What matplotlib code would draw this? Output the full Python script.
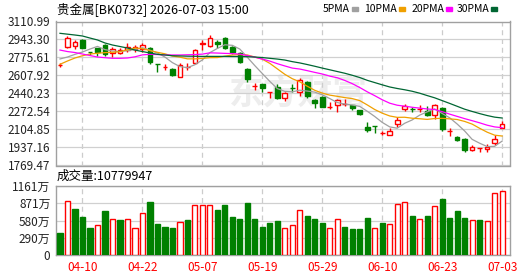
import matplotlib
matplotlib.use("Agg")
import matplotlib.pyplot as plt
from matplotlib.patches import Rectangle

plt.rcParams['font.family'] = ['Noto Sans CJK SC', 'DejaVu Sans']

# 日K数据
opens = [2704, 2871, 2880, 2939, 2828, 2864, 2892, 2815, 2815, 2846, 2852, 2855, 2867, 2713, 2683,
         2666, 2597, 2688, 2722, 2906, 2883, 2923, 2955, 2876, 2815, 2669, 2508, 2526, 2456, 2504,
         2401, 2495, 2457, 2545, 2380, 2410, 2316, 2333, 2344, 2333, 2287, 2128, 2135, 2069, 2054,
         2153, 2296, 2294, 2295, 2277, 2240, 2302, 2090, 2035, 2016, 1917, 1929, 1923, 1976, 2122]
highs = [2722, 2976, 2939, 2948, 2830, 2866, 2905, 2876, 2861, 2908, 2892, 2908, 2870, 2713, 2712,
         2675, 2722, 2727, 2855, 2939, 2985, 2939, 2969, 2880, 2830, 2678, 2535, 2529, 2457, 2529,
         2454, 2529, 2582, 2557, 2389, 2420, 2358, 2389, 2389, 2335, 2288, 2172, 2135, 2091, 2116,
         2224, 2340, 2310, 2333, 2324, 2343, 2311, 2116, 2044, 2026, 1961, 1930, 1970, 2053, 2184]
lows = [2687, 2867, 2855, 2860, 2799, 2792, 2790, 2783, 2805, 2830, 2827, 2827, 2712, 2643, 2659,
        2603, 2590, 2659, 2712, 2846, 2876, 2867, 2858, 2805, 2728, 2545, 2473, 2457, 2401, 2390,
        2370, 2457, 2420, 2401, 2308, 2310, 2296, 2265, 2324, 2287, 2240, 2079, 2070, 2053, 2052,
        2131, 2277, 2270, 2265, 2233, 2200, 2091, 2047, 1995, 1898, 1905, 1892, 1898, 1961, 2116]
closes = [2706, 2955, 2917, 2867, 2826, 2830, 2805, 2852, 2843, 2871, 2876, 2892, 2737, 2712, 2685,
          2613, 2706, 2690, 2846, 2908, 2955, 2899, 2861, 2824, 2731, 2573, 2510, 2494, 2457, 2396,
          2442, 2493, 2566, 2417, 2349, 2317, 2318, 2380, 2346, 2302, 2252, 2097, 2134, 2071, 2091,
          2193, 2324, 2292, 2297, 2240, 2333, 2110, 2092, 2007, 1914, 1942, 1930, 1939, 2016, 2156]
prev_close = 2715  # 第一天之前的收盘价 (估计)

# 成交量 (万)
volumes = [375, 909, 774, 640, 460, 505, 746, 600, 589, 606, 449, 707, 892, 527, 477,
           460, 550, 594, 847, 847, 847, 763, 847, 645, 611, 880, 611, 477, 544, 572,
           454, 505, 757, 662, 606, 544, 454, 606, 477, 443, 443, 628, 454, 544, 522,
           858, 892, 662, 606, 662, 825, 948, 628, 746, 628, 589, 589, 572, 1049, 1078]

# 均线
ma5 = [2762, 2780, 2805, 2827, 2854, 2879, 2849, 2836, 2831, 2840, 2849, 2867, 2844, 2818, 2780,
       2728, 2691, 2681, 2708, 2753, 2821, 2860, 2894, 2889, 2854, 2778, 2700, 2626, 2553, 2486,
       2460, 2456, 2471, 2463, 2453, 2428, 2393, 2356, 2342, 2333, 2320, 2275, 2226, 2171, 2129,
       2117, 2163, 2194, 2239, 2269, 2297, 2254, 2214, 2156, 2091, 2013, 1977, 1946, 1948, 1997]
ma10 = [2712, 2743, 2771, 2792, 2808, 2815, 2821, 2824, 2830, 2847, 2864, 2858, 2840, 2824, 2810,
        2789, 2779, 2763, 2763, 2767, 2774, 2775, 2788, 2799, 2803, 2799, 2780, 2760, 2721, 2670,
        2619, 2578, 2549, 2508, 2470, 2444, 2425, 2414, 2402, 2393, 2374, 2334, 2291, 2257, 2231,
        2218, 2219, 2210, 2205, 2199, 2207, 2209, 2204, 2198, 2180, 2155, 2116, 2080, 2052, 2044]
ma20 = [2845, 2831, 2822, 2808, 2794, 2780, 2774, 2768, 2768, 2771, 2782, 2800, 2805, 2803, 2800,
        2799, 2799, 2801, 2803, 2807, 2819, 2817, 2814, 2812, 2807, 2794, 2779, 2761, 2742, 2718,
        2697, 2677, 2668, 2653, 2637, 2622, 2602, 2587, 2562, 2532, 2496, 2456, 2420, 2382, 2350,
        2331, 2322, 2312, 2304, 2296, 2291, 2271, 2248, 2227, 2206, 2187, 2167, 2145, 2129, 2122]
ma30 = [3001, 2993, 2985, 2976, 2957, 2939, 2911, 2892, 2878, 2864, 2845, 2831, 2818, 2805, 2799,
        2792, 2790, 2788, 2787, 2786, 2786, 2786, 2786, 2785, 2785, 2783, 2780, 2775, 2768, 2761,
        2752, 2737, 2725, 2710, 2694, 2677, 2661, 2645, 2629, 2610, 2589, 2563, 2542, 2521, 2501,
        2487, 2475, 2461, 2443, 2421, 2400, 2374, 2348, 2321, 2294, 2273, 2253, 2235, 2220, 2212]

price_ticks = [3110.99, 2943.30, 2775.61, 2607.92, 2440.23, 2272.54, 2104.85, 1937.16, 1769.47]
vol_ticks = [1161, 871, 580, 290, 0]
vol_tick_labels = ["1161万", "871万", "580万", "290万", "0"]
date_idx = [3, 11, 19, 27, 35, 43, 51, 59]
date_labels = ["04-10", "04-22", "05-07", "05-19", "05-29", "06-10", "06-23", "07-03"]

RED = "#ff0000"
GREEN = "#008000"
W, H = 530, 276

fig = plt.figure(figsize=(W / 100, H / 100), dpi=100)
ax = fig.add_axes([56 / W, 1 - 165.5 / H, 454 / W, 144 / H])
axv = fig.add_axes([56 / W, 1 - 255 / H, 454 / W, 69 / H])

n = len(closes)
x = list(range(n))

# K线
for i in x:
    up = closes[i] >= opens[i]
    col = RED if up else GREEN
    ax.vlines(i, lows[i], highs[i], color=col, lw=1.0, zorder=3)
    bot = min(opens[i], closes[i])
    h = abs(closes[i] - opens[i])
    ax.bar(i, h, bottom=bot, width=0.62, facecolor="white" if up else col,
           edgecolor=col, lw=1.0, zorder=4)

ax.plot(x, ma5, color="#a0a0a0", lw=0.9, zorder=5)
ax.plot(x, ma10, color="#f0a000", lw=0.9, zorder=5)
ax.plot(x, ma20, color="#ff00ff", lw=0.9, zorder=5)
ax.plot(x, ma30, color="#006633", lw=0.9, zorder=5)

ax.text(0.533, 0.5, "东方财富", transform=ax.transAxes, ha="center", va="center",
        fontsize=25, fontweight="bold", color="#ededed", zorder=0.1)

# 成交量
pc = [prev_close] + closes[:-1]
for i in x:
    up = closes[i] > pc[i]
    col = RED if up else GREEN
    axv.bar(i, volumes[i], width=0.7, facecolor="white" if up else col,
            edgecolor=col, lw=1.0, zorder=3)

for a in (ax, axv):
    a.set_xlim(-0.53, 60.05)
    a.set_xticks(date_idx)
    a.tick_params(length=0, labelsize=8.5, colors="#222222", pad=4)
    a.grid(axis="x", color="#cccccc", ls=(0, (4, 3)), lw=0.9)
    a.grid(axis="y", color="#d0d0d0", ls="-", lw=0.9)
    a.set_axisbelow(True)
    for s in a.spines.values():
        s.set_color("#a0a0a0")
        s.set_linewidth(1.0)

ax.set_ylim(1769.47, 3110.99)
ax.set_yticks(price_ticks)
ax.set_yticklabels([f"{v:.2f}" for v in price_ticks])
ax.set_xticklabels([])

axv.set_ylim(0, 1161)
axv.set_yticks(vol_ticks)
axv.set_yticklabels(vol_tick_labels)
axv.set_xticklabels(date_labels, color=RED)

fig.text(57 / W, 1 - 9 / H, "贵金属[BK0732] 2026-07-03 15:00", fontsize=9, va="center", ha="left")
fig.text(57 / W, 1 - 176 / H, "成交量:10779947", fontsize=9, va="center", ha="left")

# 图例: 文字右对齐到色块左边
legend = [("5PMA", "#a0a0a0", 352), ("10PMA", "#f0a000", 399),
          ("20PMA", "#ff00ff", 446), ("30PMA", "#006633", 491)]
for label, col, px in legend:
    fig.text((px - 2) / W, 1 - 9 / H, label, fontsize=7.5, va="center", ha="right")
    fig.patches.append(Rectangle((px / W, 1 - 11 / H), 6 / W, 4 / H,
                                 transform=fig.transFigure, color=col))

fig.savefig("out.png", dpi=100)
